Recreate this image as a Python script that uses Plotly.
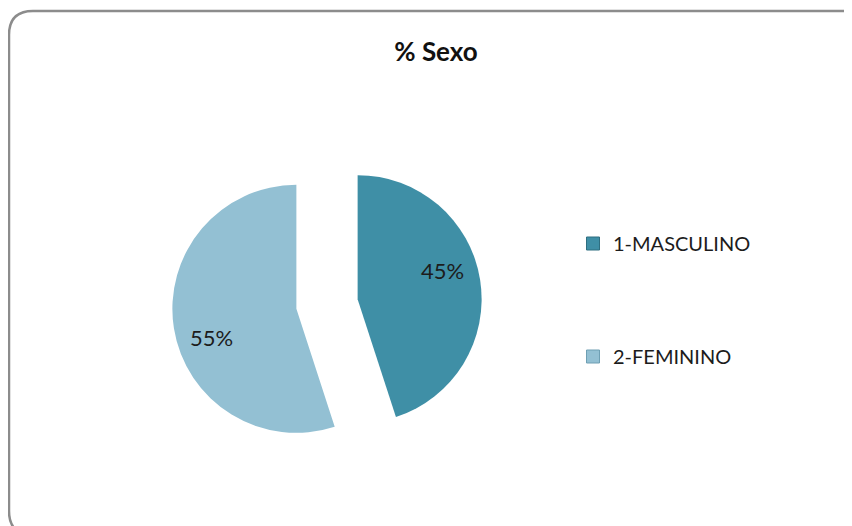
import math
import plotly.graph_objects as go

# datos
categorias = ["1-MASCULINO", "2-FEMININO"]
porcentajes = [45, 55]
colores = ["#3F8FA6", "#93C0D3"]
bordes = ["#2E6E80", "#6E9FB3"]

# la pagina tiene un margen de 8px en el body
OFF = 8
W, H = 852 - OFF, 526 - OFF
FONT = "Lato, 'Open Sans', sans-serif"

CX, CY, PULL = 327, 304, 0.25
R = 124
BOX = R * (1 + PULL)


def px(x):
    return (x - OFF) / W


def py(y):
    return 1 - (y - OFF) / H


fig = go.Figure()

fig.add_trace(go.Pie(
    labels=categorias,
    values=porcentajes,
    sort=False,
    direction="clockwise",
    rotation=0,
    pull=[PULL, PULL],
    marker=dict(colors=colores, line=dict(width=0)),
    textinfo="none",
    domain=dict(x=[px(CX - BOX), px(CX + BOX)], y=[py(CY + BOX), py(CY - BOX)]),
    showlegend=False,
    hoverinfo="label+percent",
))

# etiquetas de porcentaje (estilo "mejor ajuste" de Excel)
total = sum(porcentajes)
acum = 0
for v in porcentajes:
    mid = math.radians((acum + v / 2) / total * 360)
    acum += v
    pxv = CX + PULL * R * math.sin(mid)
    pyv = CY - PULL * R * math.cos(mid)
    ang = mid - math.radians(10)
    d = 0.72 * R
    fig.add_annotation(
        x=px(pxv + d * math.sin(ang)), y=py(pyv - d * math.cos(ang)),
        xref="paper", yref="paper", showarrow=False,
        xanchor="center", yanchor="middle",
        text=f"{round(v / total * 100)}%",
        font=dict(family=FONT, size=22, color="#1c1c1c"),
    )

# leyenda con marcadores cuadrados
for i, (cat, col) in enumerate(zip(categorias, colores)):
    fig.add_trace(go.Scatter(
        x=[None], y=[None], mode="markers", name=cat,
        legendgroup=cat,
        marker=dict(symbol="square", size=13, color=col,
                    line=dict(color=bordes[i], width=1)),
    ))

# marco redondeado
x0, y0, x1, y1, r = 9, 11, 866, 535, 24
path = (f"M {px(x0 + r)},{py(y0)} L {px(x1 - r)},{py(y0)} "
        f"Q {px(x1)},{py(y0)} {px(x1)},{py(y0 + r)} "
        f"L {px(x1)},{py(y1 - r)} Q {px(x1)},{py(y1)} {px(x1 - r)},{py(y1)} "
        f"L {px(x0 + r)},{py(y1)} Q {px(x0)},{py(y1)} {px(x0)},{py(y1 - r)} "
        f"L {px(x0)},{py(y0 + r)} Q {px(x0)},{py(y0)} {px(x0 + r)},{py(y0)} Z")
fig.add_shape(type="path", path=path, xref="paper", yref="paper",
              line=dict(color="#8C8C8C", width=2.5), layer="below")

fig.update_layout(
    width=W, height=H,
    margin=dict(l=0, r=0, t=0, b=0),
    paper_bgcolor="white", plot_bgcolor="white",
    font=dict(family=FONT, color="#1c1c1c"),
    title=dict(text="<b>% Sexo</b>", x=px(436), xanchor="center",
               y=py(52), yanchor="middle",
               font=dict(family=FONT, size=26, color="#111111")),
    xaxis=dict(visible=False),
    yaxis=dict(visible=False),
    legend=dict(x=px(573), y=py(224), xanchor="left", yanchor="top",
                font=dict(family=FONT, size=20, color="#1c1c1c"),
                tracegroupgap=84, itemsizing="trace", bgcolor="rgba(0,0,0,0)"),
    hovermode=False,
)

fig.write_html("out.html")
